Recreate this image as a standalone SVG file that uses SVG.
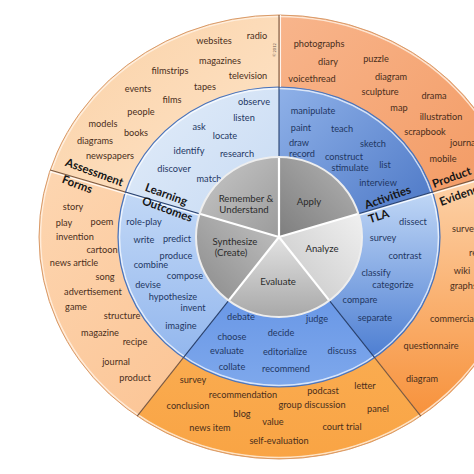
<svg xmlns="http://www.w3.org/2000/svg" width="474" height="474" viewBox="0 0 474 474">
<style>
text{font-family:Lato,"Liberation Sans",sans-serif;font-size:9.2px;text-anchor:middle}
.o text,text.o{fill:#4a2e1b}
.b text,text.b{fill:#1f3763}
.g text{fill:#2b2b2b;font-size:9.6px}
.lab{font-weight:bold;font-size:11.5px;fill:#161616}
.sep{stroke:#fff;stroke-width:2.2;fill:none}
.ol{stroke:#7a5840;stroke-width:1.1}
.bl{stroke:#27406e;stroke-width:1.1}
.hl{stroke:#fff;stroke-opacity:.85;stroke-width:1.3}
</style>
<defs>
<linearGradient id="oTL" x1="1" y1="1" x2="0" y2="0"><stop offset="0" stop-color="#fde6cc"/><stop offset="1" stop-color="#fbd1a6"/></linearGradient>
<linearGradient id="oTR" x1="0" y1="0" x2="1" y2="1"><stop offset="0" stop-color="#f8b58c"/><stop offset="1" stop-color="#f2975e"/></linearGradient>
<linearGradient id="oR" x1="0" y1="0" x2="0" y2="1"><stop offset="0" stop-color="#fdd4ac"/><stop offset="1" stop-color="#f7923c"/></linearGradient>
<linearGradient id="oB" x1="0" y1="0" x2="0" y2="1"><stop offset="0" stop-color="#fbb45e"/><stop offset="1" stop-color="#f9a444"/></linearGradient>
<linearGradient id="oL" x1="0" y1="0" x2="1" y2="1"><stop offset="0" stop-color="#fdd6b1"/><stop offset="1" stop-color="#fbc08e"/></linearGradient>
<linearGradient id="bTL" x1="0" y1="0" x2="1" y2="1"><stop offset="0" stop-color="#e3edf9"/><stop offset="1" stop-color="#c5d9f3"/></linearGradient>
<linearGradient id="bTR" x1="0" y1="0" x2="1" y2="1"><stop offset="0" stop-color="#8fb1e8"/><stop offset="1" stop-color="#4874c4"/></linearGradient>
<linearGradient id="bR" x1="0" y1="0" x2="0" y2="1"><stop offset="0" stop-color="#c0d7f6"/><stop offset="1" stop-color="#4d7ed2"/></linearGradient>
<linearGradient id="bB" x1="0" y1="0" x2="0" y2="1"><stop offset="0" stop-color="#5b8ce2"/><stop offset="1" stop-color="#7ea8ec"/></linearGradient>
<linearGradient id="bL" x1="0" y1="0" x2="0" y2="1"><stop offset="0" stop-color="#c2d8f6"/><stop offset="1" stop-color="#93b7ee"/></linearGradient>
<linearGradient id="gRem" x1="0" y1="0" x2="1" y2="1"><stop offset="0" stop-color="#c8c8c8"/><stop offset="1" stop-color="#9b9b9b"/></linearGradient>
<linearGradient id="gApp" x1="1" y1="0" x2="0" y2="1"><stop offset="0" stop-color="#b4b4b4"/><stop offset="1" stop-color="#7e7e7e"/></linearGradient>
<linearGradient id="gAna" x1="1" y1="0" x2="0" y2="1"><stop offset="0" stop-color="#f0f0f0"/><stop offset="1" stop-color="#c6c6c6"/></linearGradient>
<linearGradient id="gEva" x1="0" y1="0" x2="0" y2="1"><stop offset="0" stop-color="#e2e2e2"/><stop offset="1" stop-color="#a8a8a8"/></linearGradient>
<linearGradient id="gSyn" x1="1" y1="0" x2="0" y2="1"><stop offset="0" stop-color="#c2c2c2"/><stop offset="1" stop-color="#8a8a8a"/></linearGradient>
</defs>
<rect width="474" height="474" fill="#fff"/>

<g id="outer-ring" class="o">
<g id="sources">
<path d="M279,237 L50.2,170 A240,222 0 0 1 279,15 Z" fill="url(#oTL)"/>
<text x="214" y="44">websites</text><text x="257" y="39">radio</text><text x="220" y="64">magazines</text>
<text x="170" y="74">filmstrips</text><text x="248" y="79">television</text><text x="138" y="92">events</text>
<text x="205" y="90">tapes</text><text x="172" y="103">films</text><text x="141" y="115">people</text>
<text x="103" y="127">models</text><text x="136" y="136">books</text><text x="95" y="144">diagrams</text>
<text x="110" y="159">newspapers</text>
</g>
<g id="apply-products">
<path d="M279,237 L279,15 A240,222 0 0 1 507.8,170 Z" fill="url(#oTR)"/>
<text x="319" y="47">photographs</text><text x="328" y="65">diary</text><text x="376" y="62">puzzle</text>
<text x="312" y="82">voicethread</text><text x="391" y="80">diagram</text><text x="380" y="95">sculpture</text>
<text x="434" y="99">drama</text><text x="399" y="111">map</text><text x="441" y="120">illustration</text>
<text x="425" y="135">scrapbook</text><text x="450" y="146" style="text-anchor:start">journal</text>
<text x="443" y="162">mobile</text>
</g>
<g id="analyze-products">
<path d="M279,237 L507.8,170 A240,222 0 0 1 420.8,416.1 Z" fill="url(#oR)"/>
<text x="452" y="232" style="text-anchor:start">survey</text><text x="469" y="256" style="text-anchor:start">report</text>
<text x="462" y="274">wiki</text><text x="450" y="289" style="text-anchor:start">graphs</text>
<text x="430" y="322" style="text-anchor:start">commercial</text><text x="431" y="349">questionnaire</text>
<text x="422" y="382">diagram</text>
</g>
<g id="evaluate-products">
<path d="M279,237 L420.8,416.1 A240,222 0 0 1 137.2,416.1 Z" fill="url(#oB)"/>
<text x="193" y="383">survey</text><text x="243" y="398">recommendation</text><text x="188" y="409">conclusion</text>
<text x="242" y="417">blog</text><text x="210" y="431">news item</text><text x="323" y="394">podcast</text>
<text x="365" y="389">letter</text><text x="312" y="408">group discussion</text><text x="378" y="412">panel</text>
<text x="273" y="425">value</text><text x="342" y="430">court trial</text><text x="279" y="444">self-evaluation</text>
</g>
<g id="create-products">
<path d="M279,237 L137.2,416.1 A240,222 0 0 1 50.2,170 Z" fill="url(#oL)"/>
<text x="73" y="210">story</text><text x="64" y="226">play</text><text x="102" y="225">poem</text>
<text x="75" y="240">invention</text><text x="102" y="253">cartoon</text><text x="74" y="266">news article</text>
<text x="105" y="280">song</text><text x="93" y="295">advertisement</text><text x="76" y="310">game</text>
<text x="122" y="319">structure</text><text x="100" y="336">magazine</text><text x="135" y="345">recipe</text>
<text x="116" y="365">journal</text><text x="135" y="381">product</text>
</g>
<ellipse cx="279" cy="237" rx="238.5" ry="220.5" fill="none" stroke="#fff3e6" stroke-width="1.5" stroke-opacity=".8"/>
<ellipse cx="279" cy="237" rx="240" ry="222" fill="none" stroke="#d99a68" stroke-width="1"/>
</g>

<g id="middle-ring" class="b">
<g id="remember-verbs">
<path d="M279,237 L125.4,192 A161,150 0 0 1 279,87 Z" fill="url(#bTL)"/>
<text x="254" y="105">observe</text><text x="244" y="121">listen</text><text x="199" y="130">ask</text>
<text x="225" y="139">locate</text><text x="189" y="154">identify</text><text x="237" y="157">research</text>
<text x="174" y="172">discover</text><text x="209" y="182">match</text>
</g>
<g id="apply-verbs">
<path d="M279,237 L279,87 A161,150 0 0 1 432.6,192 Z" fill="url(#bTR)"/>
<text x="313" y="114">manipulate</text><text x="301" y="131">paint</text><text x="342" y="132">teach</text>
<text x="299" y="146">draw</text><text x="373" y="147">sketch</text><text x="302" y="157">record</text>
<text x="344" y="160">construct</text><text x="350" y="171">stimulate</text><text x="385" y="168">list</text>
<text x="378" y="186">interview</text>
</g>
<g id="analyze-verbs">
<path d="M279,237 L432.6,192 A161,150 0 0 1 374.6,357.7 Z" fill="url(#bR)"/>
<text x="413" y="225">dissect</text><text x="383" y="241">survey</text><text x="405" y="259">contrast</text>
<text x="376" y="276">classify</text><text x="393" y="288">categorize</text><text x="360" y="303">compare</text>
<text x="375" y="321">separate</text>
</g>
<g id="evaluate-verbs">
<path d="M279,237 L374.6,357.7 A161,150 0 0 1 183.4,357.7 Z" fill="url(#bB)"/>
<text x="241" y="320">debate</text><text x="317" y="322">judge</text><text x="232" y="340">choose</text>
<text x="281" y="336">decide</text><text x="227" y="354">evaluate</text><text x="285" y="355">editorialize</text>
<text x="342" y="354">discuss</text><text x="232" y="370">collate</text><text x="286" y="372">recommend</text>
</g>
<g id="create-verbs">
<path d="M279,237 L183.4,357.7 A161,150 0 0 1 125.4,192 Z" fill="url(#bL)"/>
<text x="144" y="225">role-play</text><text x="144" y="243">write</text><text x="177" y="242">predict</text>
<text x="176" y="259">produce</text><text x="151" y="268">combine</text><text x="185" y="279">compose</text>
<text x="148" y="288">devise</text><text x="173" y="300">hypothesize</text><text x="193" y="311">invent</text>
<text x="181" y="329">imagine</text>
</g>
<ellipse cx="279" cy="237" rx="159.5" ry="148.5" fill="none" stroke="#fff" stroke-width="1.5" stroke-opacity=".7"/>
<ellipse cx="279" cy="237" rx="161" ry="150" fill="none" stroke="#4a72b8" stroke-width="1.2"/>
</g>

<g id="connectors">
<line class="hl" x1="279" y1="87" x2="279" y2="15" transform="translate(1.4,0)"/>
<line class="ol" x1="279" y1="87" x2="279" y2="15"/>
<line class="hl" x1="125.4" y1="193.6" x2="50.2" y2="171.6"/>
<line class="ol" x1="125.4" y1="192" x2="50.2" y2="170"/>
<line class="hl" x1="432.6" y1="193.6" x2="507.8" y2="171.6" stroke-width="2"/>
<line class="ol" x1="432.6" y1="192" x2="507.8" y2="170"/>
<line class="ol" x1="374.6" y1="357.7" x2="420.8" y2="416.1"/>
<line class="ol" x1="183.4" y1="357.7" x2="137.2" y2="416.1"/>
<line class="bl" x1="279" y1="157" x2="279" y2="87"/>
<line class="hl" x1="199.6" y1="215.4" x2="125.4" y2="193.6" stroke-width="2"/>
<line class="bl" x1="199.6" y1="213.8" x2="125.4" y2="192"/>
<line class="hl" x1="358.4" y1="215.4" x2="432.6" y2="193.6" stroke-width="2"/>
<line class="bl" x1="358.4" y1="213.8" x2="432.6" y2="192"/>
<line class="bl" x1="329.4" y1="300.6" x2="374.6" y2="357.7"/>
<line class="bl" x1="228.6" y1="300.6" x2="183.4" y2="357.7"/>
</g>

<g id="core" class="g">
<g id="remember"><path d="M279,237 L199.6,213.8 A83,80 0 0 1 279,157 Z" fill="url(#gRem)"/>
<text x="246" y="202">Remember &amp;</text><text x="244" y="213">Understand</text></g>
<g id="apply"><path d="M279,237 L279,157 A83,80 0 0 1 358.4,213.8 Z" fill="url(#gApp)"/>
<text x="309" y="205">Apply</text></g>
<g id="analyze"><path d="M279,237 L358.4,213.8 A83,80 0 0 1 329.4,300.6 Z" fill="url(#gAna)"/>
<text x="322" y="252">Analyze</text></g>
<g id="evaluate"><path d="M279,237 L329.4,300.6 A83,80 0 0 1 228.6,300.6 Z" fill="url(#gEva)"/>
<text x="278" y="285">Evaluate</text></g>
<g id="synthesize"><path d="M279,237 L228.6,300.6 A83,80 0 0 1 199.6,213.8 Z" fill="url(#gSyn)"/>
<text x="235" y="245">Synthesize</text><text x="231" y="256">(Create)</text></g>
<path class="sep" d="M279,237 L199.6,213.8 M279,237 L279,157 M279,237 L358.4,213.8 M279,237 L329.4,300.6 M279,237 L228.6,300.6"/>
<ellipse cx="279" cy="237" rx="83" ry="80" fill="none" stroke="#eeeeee" stroke-width="2"/>
</g>

<g id="labels">
<text class="lab" transform="translate(93,176) rotate(20)">Assessment</text>
<text class="lab" transform="translate(76,188) rotate(20)">Forms</text>
<text class="lab" transform="translate(165,198) rotate(20)">Learning</text>
<text class="lab" transform="translate(166,213) rotate(20)">Outcomes</text>
<text class="lab" transform="translate(389,201) rotate(-20)">Activities</text>
<text class="lab" transform="translate(380,220) rotate(-18)">TLA</text>
<text class="lab" transform="translate(453,181) rotate(-20)">Product</text>
<text class="lab" transform="translate(463,198) rotate(-20)">Evidence</text>
<text transform="translate(276,50) rotate(-90)" style="font-size:4px;fill:#6a5a50">© 2012</text>
</g>
</svg>
